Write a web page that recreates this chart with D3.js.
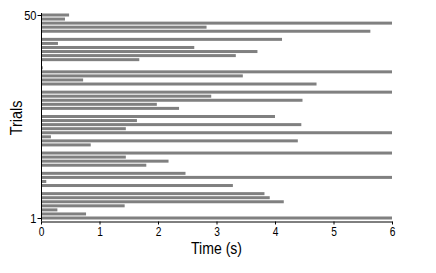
<!DOCTYPE html>
<html lang="en">
<head>
  <meta charset="UTF-8">
  <title>Trials</title>
  <script src="https://d3js.org/d3.v7.min.js"></script>
  <style>
    body { margin: 0; background: #fff; }
    text { font-family: "Liberation Sans", Arial, sans-serif; }
  </style>
</head>
<body>
  <div id="chart"></div>

  <script>
    // durations per trial, bottom row first (0 = no bar)
    const durations = [6, 0.77, 0.28, 1.43, 4.15, 3.91, 3.82, 0, 3.28, 0.09,
      6, 2.47, 0, 1.80, 2.18, 1.45, 6, 0, 0.85, 4.39,
      0.17, 6, 1.45, 4.45, 1.64, 4.00, 0, 2.36, 1.98, 4.47,
      2.91, 6, 0, 4.71, 0.72, 3.45, 6, 0.03, 0, 1.68,
      3.33, 3.70, 2.62, 0.29, 4.12, 0, 5.63, 2.83, 6, 0.41, 0.48];
    const trials = durations.map((d, i) => i);
    const xTicks = [0, 1, 2, 3, 4, 5, 6];
    const yTickLabels = ["1", "50"];

    const width = 436;
    const height = 273;
    const mLeft = 41, mRight = 392, mTop = 15, mBottom = 218;

    const svg = d3.select("#chart")
      .append("svg")
      .attr("width", width)
      .attr("height", height);

    const x = d3.scaleLinear().domain([0, 6]).range([mLeft, mRight]);
    const y = d3.scalePoint().domain(trials).range([mBottom, mTop]);

    // bars
    svg.append("g")
      .selectAll("rect")
      .data(durations)
      .enter()
      .append("rect")
      .attr("x", x(0))
      .attr("y", (d, i) => y(i) - 1.5)
      .attr("width", d => x(d) - x(0))
      .attr("height", 3)
      .attr("fill", "#808080");

    // x axis
    const xAxis = svg.append("g")
      .attr("transform", "translate(0," + 221.5 + ")")
      .call(d3.axisBottom(x).tickValues(xTicks).tickFormat(d3.format("d"))
        .tickSize(3).tickPadding(3).tickSizeOuter(0));
    xAxis.selectAll("text")
      .style("font-size", "12px")
      .attr("transform", "scale(0.85,1)");

    // y axis
    const yAxis = svg.append("g")
      .attr("transform", "translate(" + (mLeft + 0.5) + ",0)")
      .call(d3.axisLeft(y)
        .tickValues([trials[0], trials[trials.length - 1]])
        .tickFormat((d, i) => yTickLabels[i])
        .tickSize(4).tickPadding(2).tickSizeOuter(0));
    yAxis.select(".domain").attr("d", "M0,13V221.5");
    yAxis.selectAll("text")
      .style("font-size", "13px")
      .attr("transform", "scale(0.85,1)");

    svg.append("text")
      .attr("transform", "translate(" + ((mLeft + mRight) / 2) + ",254) scale(0.88,1)")
      .attr("text-anchor", "middle")
      .style("font-size", "16px")
      .text("Time (s)");

    svg.append("text")
      .attr("transform", "translate(22," + ((mTop + 221) / 2) + ") rotate(-90) scale(0.9,1)")
      .attr("text-anchor", "middle")
      .style("font-size", "16px")
      .text("Trials");
  </script>
</body>
</html>
